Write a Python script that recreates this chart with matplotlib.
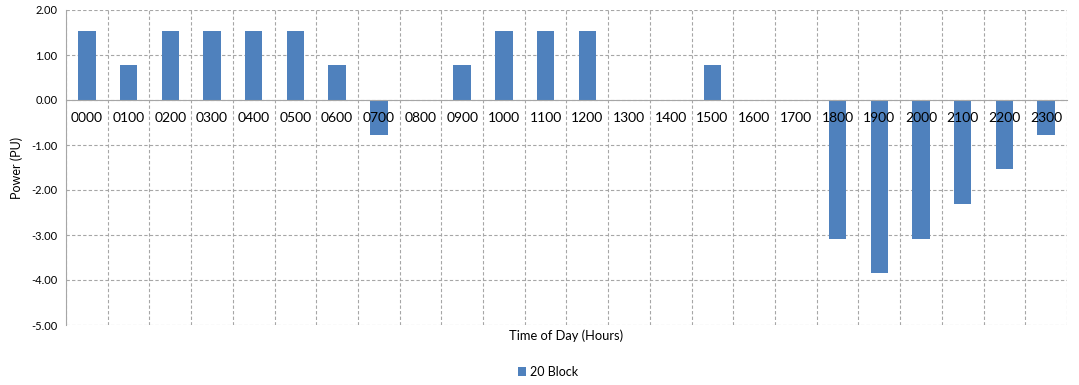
import matplotlib
matplotlib.use("Agg")
import matplotlib.pyplot as plt
import numpy as np

hours = ["0000", "0100", "0200", "0300", "0400", "0500", "0600", "0700",
         "0800", "0900", "1000", "1100", "1200", "1300", "1400", "1500",
         "1600", "1700", "1800", "1900", "2000", "2100", "2200", "2300"]
power = [1.54, 0.77, 1.54, 1.54, 1.54, 1.54, 0.77, -0.77,
         0.0, 0.77, 1.54, 1.54, 1.54, 0.0, 0.0, 0.77,
         0.0, 0.0, -3.08, -3.85, -3.08, -2.31, -1.54, -0.77]
series_name = "20 Block"
yticks = [2.0, 1.0, 0.0, -1.0, -2.0, -3.0, -4.0, -5.0]

plt.rcParams['font.family'] = ['Lato', 'DejaVu Sans']

fig = plt.figure(figsize=(10.79, 3.85), dpi=100)
ax = fig.add_axes([66/1079, 1 - 325/385, (1067 - 66)/1079, (325 - 10)/385])

x = np.arange(len(hours))
bars = ax.bar(x, power, width=0.42, color="#4f81bd", label=series_name, zorder=2)

ax.set_xlim(-0.5, len(hours) - 0.5)
ax.set_ylim(-5, 2)
ax.set_yticks(yticks)
ax.set_yticklabels([f"{v:.2f}" for v in yticks], fontsize=8)

ax.set_xticks(x)
ax.set_xticklabels(hours, fontsize=10)
ax.set_xticks(np.arange(-0.5, len(hours) + 0.5, 1), minor=True)
ax.tick_params(axis='x', which='both', length=0, pad=9)
ax.tick_params(axis='y', length=0, pad=6)

ax.spines['bottom'].set_position(('data', 0))
for s in ['top', 'right']:
    ax.spines[s].set_visible(False)
ax.spines['bottom'].set_color('#a6a6a6')
ax.spines['left'].set_color('#a6a6a6')
ax.spines['bottom'].set_zorder(2.5)
ax.spines['left'].set_zorder(2.5)

ax.grid(axis='y', which='major', color='#a6a6a6', linestyle=(0, (3, 2)), linewidth=0.8)
ax.grid(axis='x', which='minor', color='#a6a6a6', linestyle=(0, (3, 2)), linewidth=0.8)
ax.grid(axis='x', which='major', visible=False)
ax.yaxis.set_zorder(0.5)
ax.xaxis.set_zorder(4)

ax.set_ylabel("Power (PU)", fontsize=9, labelpad=6)
fig.text((66 + 1067) / 2 / 1079, 1 - 336 / 385, "Time of Day (Hours)", ha='center', va='center', fontsize=9.3)

fig.legend(handles=[bars], labels=[series_name], loc='center', bbox_to_anchor=(548/1079, 1 - 372/385),
           frameon=False, fontsize=9, handlelength=0.7, handleheight=0.7, handletextpad=0.3)

fig.savefig("out.png", dpi=100)
